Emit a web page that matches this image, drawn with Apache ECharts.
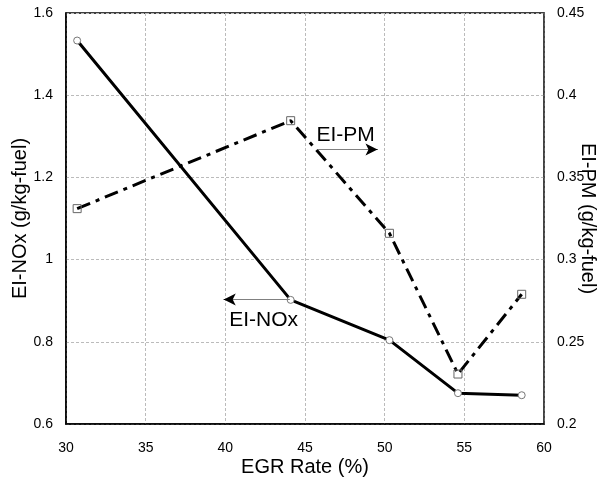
<!DOCTYPE html>
<html>
<head>
<meta charset="utf-8">
<script src="https://cdn.jsdelivr.net/npm/echarts@6/dist/echarts.min.js"></script>
<style>html,body{margin:0;padding:0;background:#fff}#c{width:605px;height:478px}</style>
</head>
<body>
<div id="c"></div>
<script>
// Data
var egrRate = [30.7, 44.1, 50.3, 54.6, 58.6];
var eiNOx = [1.533, 0.902, 0.804, 0.675, 0.670];
var eiPM = [0.331, 0.3845, 0.316, 0.2304, 0.2789];
// Annotations (data coordinates)
var pmArrow = [[45.8, 0.367], [49.55, 0.367]];
var pmLabel = [47.55, 0.3758];
var noxArrow = [[44.05, 0.903], [39.9, 0.903]];
var noxLabel = [42.4, 0.853];

var FONT = 'Arial, "Liberation Sans", sans-serif';
function pairs(xs, ys){ return xs.map(function(x,i){ return [x, ys[i]]; }); }
function arrowData(a){
  var x0 = a[0][0], x1 = a[1][0], y = a[0][1];
  var xh = x1 - (x1 - x0) * 0.12;
  return [
    [{coord: [x0, y], symbol: 'none', lineStyle: {color: '#808080', width: 1}},
     {coord: [x1, y], symbol: 'none'}],
    [{coord: [xh, y], symbol: 'none', lineStyle: {color: '#000', width: 1}},
     {coord: [x1, y], symbol: 'arrow', symbolSize: [9, 12]}]
  ];
}

var chart = echarts.init(document.getElementById('c'), null, {renderer:'canvas'});
chart.setOption({
  animation: false,
  backgroundColor: '#fff',
  textStyle: {fontFamily: FONT},
  grid: {left: 66, right: 61, top: 13, bottom: 54, containLabel: false, outerBoundsMode: 'none',
         show: true, borderColor: '#000', borderWidth: 1.5, backgroundColor: 'transparent'},
  xAxis: {
    type: 'value', min: 30, max: 60, interval: 5,
    name: 'EGR Rate (%)', nameLocation: 'middle', nameGap: 33, nameMoveOverlap: false,
    nameTextStyle: {fontSize: 20, color: '#000', fontFamily: FONT},
    axisLine: {show: true, lineStyle: {color: '#000', width: 1.5}},
    axisTick: {show: false},
    axisLabel: {fontSize: 14, color: '#000', margin: 17, fontFamily: FONT},
    splitLine: {show: true, lineStyle: {color: '#bbb', type: [3, 2], width: 1}}
  },
  yAxis: [{
    type: 'value', min: 0.6, max: 1.6, interval: 0.2,
    name: 'EI-NOx (g/kg-fuel)', nameLocation: 'middle', nameGap: 36, nameRotate: 90, nameMoveOverlap: false,
    nameTextStyle: {fontSize: 20, color: '#000', fontFamily: FONT},
    axisLine: {show: true, lineStyle: {color: '#000', width: 1.5}},
    axisTick: {show: false},
    axisLabel: {fontSize: 14, color: '#000', margin: 13, fontFamily: FONT,
      formatter: function(v){ return String(+v.toFixed(2)); }},
    splitLine: {show: true, lineStyle: {color: '#bbb', type: [3, 2], width: 1}}
  }, {
    type: 'value', min: 0.2, max: 0.45, interval: 0.05,
    name: 'EI-PM (g/kg-fuel)', nameLocation: 'middle', nameGap: 34, nameRotate: -90, nameMoveOverlap: false,
    nameTextStyle: {fontSize: 20, color: '#000', fontFamily: FONT},
    axisLine: {show: true, lineStyle: {color: '#444', width: 1.5}},
    axisTick: {show: false},
    axisLabel: {fontSize: 14, color: '#000', margin: 13, fontFamily: FONT,
      formatter: function(v){ return String(+v.toFixed(2)); }},
    splitLine: {show: false}
  }],
  series: [{
    name: 'EI-NOx', type: 'line', yAxisIndex: 0,
    data: pairs(egrRate, eiNOx),
    symbol: 'circle', symbolSize: 7,
    lineStyle: {color: '#000', width: 3},
    itemStyle: {color: '#fff', borderColor: '#777', borderWidth: 1},
    z: 3,
    markLine: {
      silent: true, symbol: 'none', precision: 4,
      label: {show: false},
      lineStyle: {type: 'solid'},
      data: arrowData(noxArrow)
    },
    markPoint: {
      silent: true, symbol: 'circle', symbolSize: 1, itemStyle: {color: 'rgba(0,0,0,0)'},
      label: {show: true, position: 'inside', color: '#000', fontSize: 21, fontFamily: FONT, formatter: 'EI-NOx'},
      data: [{coord: noxLabel}]
    }
  }, {
    name: 'EI-PM', type: 'line', yAxisIndex: 1,
    data: pairs(egrRate, eiPM),
    symbol: 'rect', symbolSize: 8,
    lineStyle: {color: '#000', width: 3, type: [14, 6, 4, 6]},
    itemStyle: {color: 'rgba(255,255,255,0)', borderColor: '#666', borderWidth: 1},
    z: 3,
    markLine: {
      silent: true, symbol: 'none', precision: 4,
      label: {show: false},
      lineStyle: {type: 'solid'},
      data: arrowData(pmArrow)
    },
    markPoint: {
      silent: true, symbol: 'circle', symbolSize: 1, itemStyle: {color: 'rgba(0,0,0,0)'},
      label: {show: true, position: 'inside', color: '#000', fontSize: 21, fontFamily: FONT, formatter: 'EI-PM'},
      data: [{coord: pmLabel}]
    }
  }]
});
</script>
</body>
</html>
